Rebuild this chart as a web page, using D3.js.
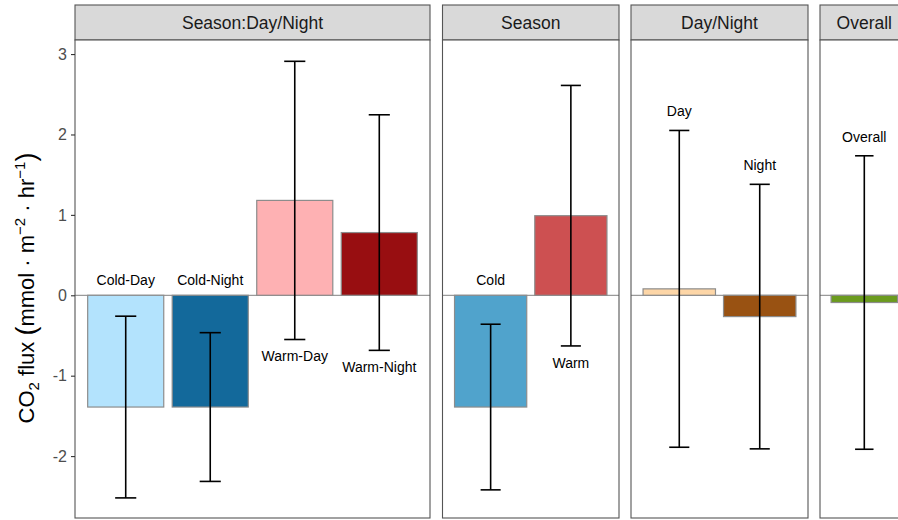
<!DOCTYPE html>
<html>
<head>
<meta charset="utf-8">
<script src="https://cdn.jsdelivr.net/npm/d3@7"></script>
<style>
  html, body { margin: 0; padding: 0; background: #fff; }
  text { font-family: "Liberation Sans", Arial, Helvetica, sans-serif; }
</style>
</head>
<body>
<svg id="chart" width="898" height="520"></svg>
<script>
// Facet panels, left to right
const facets = ["Season:Day/Night", "Season", "Day/Night", "Overall"];

// One bar per group: mean CO2 flux with ± standard error
const groups = ["Cold-Day", "Cold-Night", "Warm-Day", "Warm-Night", "Cold", "Warm", "Day", "Night", "Overall"];
const groupFacet = ["Season:Day/Night", "Season:Day/Night", "Season:Day/Night", "Season:Day/Night",
                    "Season", "Season", "Day/Night", "Day/Night", "Overall"];
const meanFlux = [-1.39, -1.39, 1.18, 0.78, -1.39, 0.99, 0.08, -0.265, -0.09];
const seFlux   = [1.13, 0.925, 1.73, 1.465, 1.03, 1.62, 1.97, 1.645, 1.825];
const barColors = ["#b3e3fd", "#13699b", "#feb1b3", "#980e11", "#50a3cc", "#cd5051", "#fdd6a7", "#995212", "#6b9b1e"];

const yTicks = [-2, -1, 0, 1, 2, 3];
const yTickLabels = ["-2", "-1", "0", "1", "2", "3"];

const data = groups.map((g, i) => ({
  group: g, facet: groupFacet[i], mean: meanFlux[i], se: seFlux[i], color: barColors[i]
}));

const svg = d3.select("#chart");

// Layout
const stripTop = 5, stripBottom = 40, panelBottom = 518;
const panelExtents = {
  "Season:Day/Night": [75, 430],
  "Season": [442.5, 619],
  "Day/Night": [631, 808],
  "Overall": [820, 908.6]
};

const y = d3.scaleLinear().domain([-2.77, 3.175]).range([panelBottom, stripBottom]);

const borderCol = "#555555";

facets.forEach(f => {
  const [x0, x1] = panelExtents[f];
  const rows = data.filter(d => d.facet === f);
  const x = d3.scaleBand()
    .domain(rows.map(d => d.group))
    .range([x0, x1])
    .paddingInner(0.1)
    .paddingOuter(0.15);
  const step = x.step();

  const g = svg.append("g");

  // strip
  g.append("rect")
    .attr("x", x0).attr("y", stripTop)
    .attr("width", x1 - x0).attr("height", stripBottom - stripTop)
    .attr("fill", "#d9d9d9").attr("stroke", borderCol).attr("stroke-width", 1.1);
  g.append("text")
    .attr("x", (x0 + x1) / 2).attr("y", (stripTop + stripBottom) / 2)
    .attr("dy", "0.35em").attr("text-anchor", "middle")
    .attr("font-size", 17.5).attr("fill", "#1a1a1a")
    .text(f);

  // panel background
  g.append("rect")
    .attr("x", x0).attr("y", stripBottom)
    .attr("width", x1 - x0).attr("height", panelBottom - stripBottom)
    .attr("fill", "#fff");

  // zero reference line
  g.append("line")
    .attr("x1", x0).attr("x2", x1)
    .attr("y1", y(0)).attr("y2", y(0))
    .attr("stroke", "#9a9a9a").attr("stroke-width", 1.2);

  // bars
  g.selectAll("rect.bar").data(rows).join("rect")
    .attr("class", "bar")
    .attr("x", d => x(d.group))
    .attr("width", x.bandwidth())
    .attr("y", d => y(Math.max(0, d.mean)))
    .attr("height", d => Math.abs(y(d.mean) - y(0)))
    .attr("fill", d => d.color)
    .attr("stroke", "#8c8c8c").attr("stroke-width", 1.2);

  // error bars
  const cap = step * 0.25;
  const eb = g.selectAll("g.eb").data(rows).join("g").attr("class", "eb");
  eb.append("line")
    .attr("x1", d => x(d.group) + x.bandwidth() / 2)
    .attr("x2", d => x(d.group) + x.bandwidth() / 2)
    .attr("y1", d => y(d.mean + d.se)).attr("y2", d => y(d.mean - d.se))
    .attr("stroke", "#000").attr("stroke-width", 1.6);
  [1, -1].forEach(s => {
    eb.append("line")
      .attr("x1", d => x(d.group) + x.bandwidth() / 2 - cap / 2)
      .attr("x2", d => x(d.group) + x.bandwidth() / 2 + cap / 2)
      .attr("y1", d => y(d.mean + s * d.se)).attr("y2", d => y(d.mean + s * d.se))
      .attr("stroke", "#000").attr("stroke-width", 1.6);
  });

  // group labels
  const nested = f === "Season:Day/Night" || f === "Season";
  g.selectAll("text.lab").data(rows).join("text")
    .attr("class", "lab")
    .attr("x", d => x(d.group) + x.bandwidth() / 2)
    .attr("y", d => {
      if (!nested) return y(d.mean + d.se) - 19;
      if (d.mean < 0) return y(0) - 15;
      return y(d.mean - d.se) + 17;
    })
    .attr("dy", "0.35em").attr("text-anchor", "middle")
    .attr("font-size", 14).attr("fill", "#000")
    .text(d => d.group);

  // panel border
  g.append("rect")
    .attr("x", x0).attr("y", stripBottom)
    .attr("width", x1 - x0).attr("height", panelBottom - stripBottom)
    .attr("fill", "none").attr("stroke", borderCol).attr("stroke-width", 1.1);
});

// y axis on the first panel
const axisX = panelExtents[facets[0]][0];
const yAxis = d3.axisLeft(y)
  .tickValues(yTicks)
  .tickFormat((d, i) => yTickLabels[i])
  .tickSize(4)
  .tickPadding(4);
const ax = svg.append("g").attr("transform", `translate(${axisX},0)`).call(yAxis);
ax.select(".domain").remove();
ax.selectAll(".tick line").attr("stroke", "#333").attr("stroke-width", 1.1);
ax.selectAll(".tick text").attr("font-size", 16).attr("fill", "#4d4d4d")
  .attr("font-family", "'Liberation Sans', Arial, sans-serif");

// y axis title: CO2 flux (mmol · m^-2 · hr^-1)
const title = svg.append("text")
  .attr("transform", `translate(34, ${(stripBottom + panelBottom) / 2 + 9}) rotate(-90)`)
  .attr("text-anchor", "middle")
  .attr("font-size", 22).attr("fill", "#000");
title.append("tspan").text("CO");
title.append("tspan").attr("font-size", 15).attr("dy", 5).text("2");
title.append("tspan").attr("dy", -5).text(" flux ");
title.append("tspan").attr("font-size", 27).attr("dy", 1).text("(");
title.append("tspan").attr("dy", -1).text("mmol \u00b7 m");
title.append("tspan").attr("font-size", 15).attr("dy", -9).text("\u22122");
title.append("tspan").attr("dy", 9).text(" \u00b7 hr");
title.append("tspan").attr("font-size", 15).attr("dy", -9).text("\u22121");
title.append("tspan").attr("font-size", 27).attr("dy", 10).text(")");
</script>
</body>
</html>
